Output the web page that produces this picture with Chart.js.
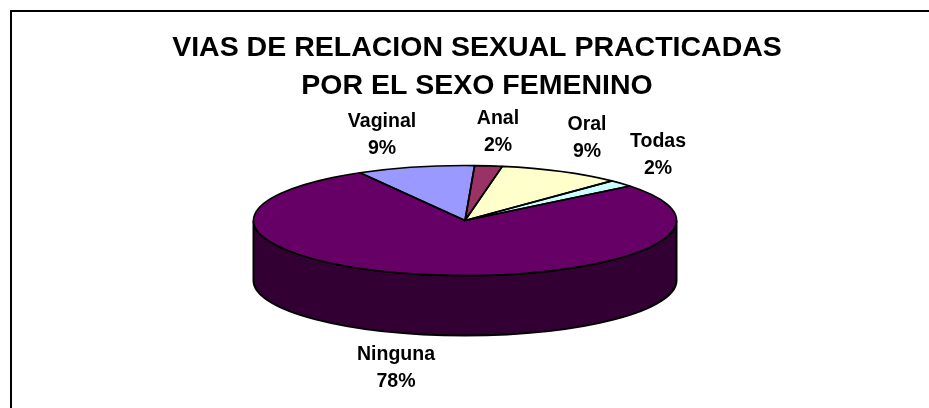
<!DOCTYPE html>
<html><head><meta charset="utf-8">
<style>html,body{margin:0;padding:0;background:#fff}canvas{display:block}</style>
<script src="https://cdn.jsdelivr.net/npm/chart.js@4"></script></head>
<body><canvas id="c" width="929" height="408"></canvas>
<script>
const categories = ["Vaginal","Anal","Oral","Todas","Ninguna"];
const seriesValues = [9,2.1,9.4,2,77.5];
const percentLabels = ["9%","2%","9%","2%","78%"];
const titleLines = ["VIAS DE RELACION SEXUAL PRACTICADAS","POR EL SEXO FEMENINO"];
const sliceColors = ["#9999FF","#993366","#FFFFCC","#CCFFFF","#660066"];
const labelPos = [[382,122],[498,119],[587,125],[658,142],[396,355]];
const CX=465, CY=220.5, RX=211.5, RY=55, DEPTH=60;
const pie3d={id:'pie3d',
 beforeDatasetsDraw(chart){
  const ctx=chart.ctx, a=chart.getDatasetMeta(0).data[0];
  ctx.save();
  ctx.fillStyle='#330033';ctx.strokeStyle='#000';ctx.lineWidth=2;
  ctx.beginPath();
  ctx.ellipse(CX,CY+DEPTH,RX,RY,0,Math.PI,0,true);
  ctx.lineTo(CX+RX,CY);
  ctx.ellipse(CX,CY,RX,RY,0,0,Math.PI,false);
  ctx.closePath();ctx.fill();ctx.stroke();
  ctx.restore();
  ctx.save();
  ctx.translate(CX,CY);ctx.scale(RX/a.outerRadius,RY/a.outerRadius);ctx.translate(-a.x,-a.y);
 },
 afterDatasetsDraw(chart){
  const ctx=chart.ctx;
  ctx.restore();
  ctx.save();
  ctx.strokeStyle='#000';ctx.lineWidth=1.7;ctx.lineJoin='round';
  chart.getDatasetMeta(0).data.forEach(a=>{
    ctx.beginPath();ctx.moveTo(CX,CY);
    ctx.ellipse(CX,CY,RX,RY,0,a.startAngle,a.endAngle);
    ctx.closePath();ctx.stroke();
  });
  ctx.restore();
 },
 afterDraw(chart){
  const ctx=chart.ctx;
  ctx.save();
  ctx.fillStyle='#000';ctx.textAlign='center';ctx.textBaseline='middle';
  ctx.font='bold 19.5px "Liberation Sans", Arial, sans-serif';
  categories.forEach((n,i)=>{
    const [x,y]=labelPos[i];
    ctx.fillText(n,x,y);
    ctx.fillText(percentLabels[i],x,y+27);
  });
  ctx.restore();
 },
 beforeDraw(chart){
  const ctx=chart.ctx;
  ctx.save();ctx.fillStyle='#fff';ctx.fillRect(0,0,929,408);
  ctx.strokeStyle='#000';ctx.lineWidth=2;
  ctx.beginPath();ctx.moveTo(11,408);ctx.lineTo(11,11);ctx.lineTo(929,11);ctx.stroke();
  ctx.restore();
 }
};
new Chart(document.getElementById('c'),{
 type:'pie',
 data:{labels:categories,datasets:[{data:seriesValues,backgroundColor:sliceColors,borderWidth:0,clip:false}]},
 options:{responsive:false,animation:false,rotation:-29.8,radius:211,
  events:[],
  layout:{padding:{left:25}},
  plugins:{legend:{display:false},tooltip:{enabled:false},
   title:{display:true,text:titleLines,color:'#000',align:'center',
     font:{family:'"Liberation Sans", Arial, sans-serif',size:28.5,weight:'bold',lineHeight:1.333},
     padding:{top:29,bottom:0}}}},
 plugins:[pie3d]
});
</script></body></html>
